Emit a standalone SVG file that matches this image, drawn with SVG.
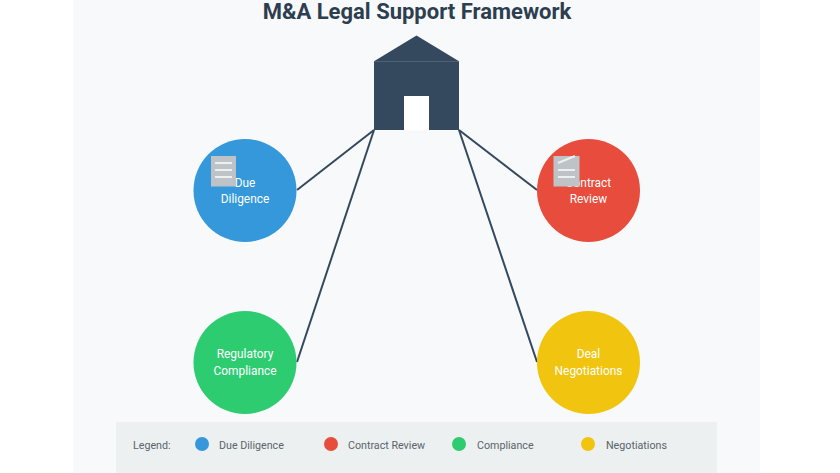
<svg xmlns="http://www.w3.org/2000/svg" width="840" height="473" viewBox="0 0 840 473">
<style>
text{font-family:Roboto,"Open Sans","Liberation Sans",sans-serif}
.title{font-size:22px;font-weight:700;fill:#2c3e50;text-anchor:middle}
.node{font-size:11.900px;fill:#fff;text-anchor:middle}
.leg{font-size:10.700px;fill:#5a646b}
.conn{stroke:#34495e;stroke-width:2;fill:none}
.doc{fill:#bdc3c7}
.dl{stroke:#ecf0f1;stroke-width:2;fill:none}
</style>
<rect width="840" height="473" fill="#fff"/>
<rect x="73" y="0" width="687" height="473" fill="#f8f9fa"/>
<text class="title" x="417" y="19">M&amp;A Legal Support Framework</text>
<g id="connectors">
<line class="conn" x1="374" y1="130" x2="297" y2="190"/>
<line class="conn" x1="459" y1="130" x2="537" y2="190"/>
<line class="conn" x1="374" y1="130" x2="297" y2="362"/>
<line class="conn" x1="459" y1="130" x2="537" y2="362"/>
</g>
<g id="building">
<polygon points="374,61.200 416.500,35.500 459,61.200" fill="#34495e"/>
<rect x="374" y="61.200" width="85" height="68.800" fill="#34495e"/>
<rect x="404" y="96" width="25" height="34" fill="#fff"/>
</g>
<g id="due-diligence">
<circle cx="245" cy="190.500" r="51.500" fill="#3498db"/>
<text class="node" x="245" y="186.500">Due</text>
<text class="node" x="245" y="203">Diligence</text>
<rect class="doc" x="211" y="156" width="25" height="30.500"/>
<path class="dl" d="M215 163H232M215 170H232M215 177H232"/>
</g>
<g id="contract-review">
<circle cx="588.500" cy="190.500" r="51.500" fill="#e74c3c"/>
<text class="node" x="588.500" y="186.500">Contract</text>
<text class="node" x="588.500" y="203">Review</text>
<rect class="doc" x="553.500" y="156" width="26" height="30.500"/>
<path class="dl" d="M558 163L575 156M558 170H575M558 177H575"/>
</g>
<g id="regulatory-compliance">
<circle cx="245" cy="362.500" r="51.500" fill="#2ecc71"/>
<text class="node" x="245" y="358">Regulatory</text>
<text class="node" x="245" y="375">Compliance</text>
</g>
<g id="deal-negotiations">
<circle cx="588.500" cy="362.500" r="51.500" fill="#f1c40f"/>
<text class="node" x="588.500" y="358">Deal</text>
<text class="node" x="588.500" y="375">Negotiations</text>
</g>
<g id="legend">
<rect x="116" y="422" width="601" height="51" fill="#ecf0f1"/>
<text class="leg" x="133" y="449">Legend:</text>
<circle cx="202" cy="444" r="7" fill="#3498db"/>
<text class="leg" x="219" y="449">Due Diligence</text>
<circle cx="331" cy="444" r="7" fill="#e74c3c"/>
<text class="leg" x="348" y="449">Contract Review</text>
<circle cx="459" cy="444" r="7" fill="#2ecc71"/>
<text class="leg" x="477" y="449">Compliance</text>
<circle cx="588" cy="444" r="7" fill="#f1c40f"/>
<text class="leg" x="606" y="449">Negotiations</text>
</g>
</svg>
